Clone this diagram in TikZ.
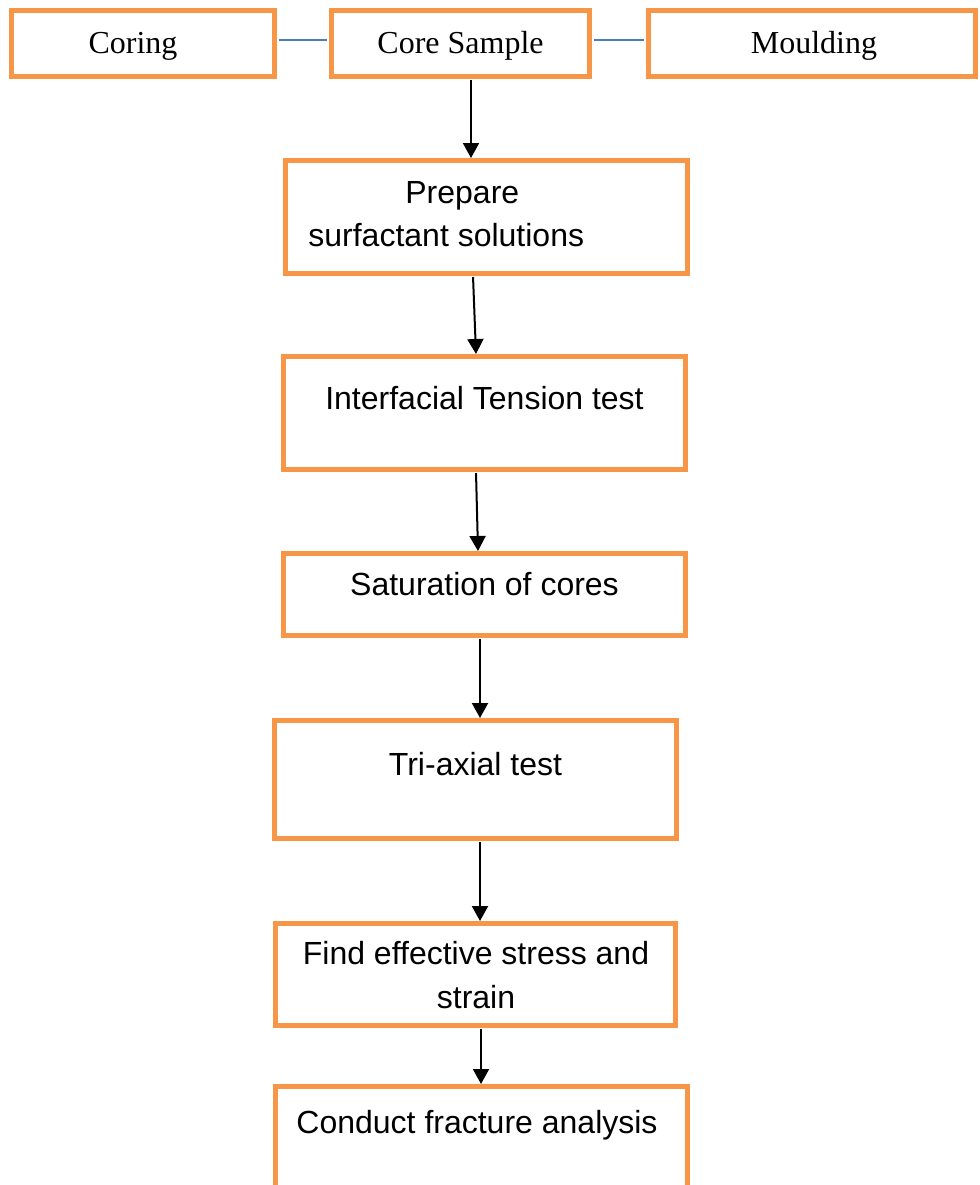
\documentclass[tikz,border=0pt]{standalone}
\usepackage{fontspec}
\setmainfont{Liberation Serif}
\newfontfamily\arialfont{Liberation Sans}
\usetikzlibrary{arrows.meta}
\definecolor{boxorange}{HTML}{F79646}
\definecolor{linkblue}{HTML}{4A7EBB}
\begin{document}
\begin{tikzpicture}[x=0.5pt,y=-0.5pt,
  stepbox/.style={draw=boxorange, line width=2.5pt, fill=white, inner sep=0pt},
  toptxt/.style={anchor=base, inner sep=0pt, font=\fontsize{16}{19}\selectfont},
  txt/.style={anchor=base, inner sep=0pt, font=\arialfont\fontsize{16}{19}\selectfont},
  flow/.style={-{Triangle[length=7.5pt,width=8pt]}, line width=1pt, shorten <=0.5pt},
  link/.style={draw=linkblue, line width=0.75pt, shorten >=1pt, shorten <=1pt}]
\useasboundingbox (0,0) rectangle (980,1185);
\clip (0,0) rectangle (980,1185);
\fill[white] (0,0) rectangle (980,1185);
\node[stepbox, minimum width=131.5pt, minimum height=33pt] (coring) at (142.5,43.5) {};
\node[stepbox, minimum width=129pt, minimum height=33pt] (sample) at (460.5,43.5) {};
\node[stepbox, minimum width=163.5pt, minimum height=33pt] (mould) at (812,43.5) {};
\node[stepbox, minimum width=201pt, minimum height=56.5pt] (prep) at (486.5,217) {};
\node[stepbox, minimum width=201pt, minimum height=56.5pt] (ift) at (484.5,413) {};
\node[stepbox, minimum width=201pt, minimum height=41pt] (sat) at (484.5,594.5) {};
\node[stepbox, minimum width=201pt, minimum height=59pt] (triax) at (475.5,779.5) {};
\node[stepbox, minimum width=200pt, minimum height=51pt] (eff) at (475.5,974.5) {};
\node[stepbox, minimum width=206pt, minimum height=82pt] (frac) at (481.5,1168.5) {};
\path
(133,53) node[toptxt]{Coring}
(460.5,53) node[toptxt]{Core Sample}
(814,53) node[toptxt]{Moulding};
\path
(405,203) node[txt, anchor=base west]{Prepare}
(308,246) node[txt, anchor=base west]{surfactant solutions}
(484.5,409) node[txt]{Interfacial Tension test}
(484.5,595) node[txt]{Saturation of cores}
(475.5,775) node[txt]{Tri-axial test}
(476,964) node[txt]{Find effective stress and}
(476,1008) node[txt]{strain}
(477,1133) node[txt]{Conduct fracture analysis};
\draw[link] ([yshift=1.75pt]coring.east) -- ([yshift=1.75pt]sample.west);
\draw[link] ([yshift=1.75pt]sample.east) -- ([yshift=1.75pt]mould.west);
\draw[flow] ([xshift=5.25pt]sample.south) -- ([xshift=-7.75pt]prep.north);
\draw[flow] ([xshift=-6.75pt]prep.south) -- ([xshift=-4.25pt]ift.north);
\draw[flow] ([xshift=-4.25pt]ift.south) -- ([xshift=-3.25pt]sat.north);
\draw[flow] ([xshift=-2.25pt]sat.south) -- ([xshift=2.25pt]triax.north);
\draw[flow] ([xshift=2.25pt]triax.south) -- ([xshift=2.25pt]eff.north);
\draw[flow] ([xshift=2.75pt]eff.south) -- ([xshift=-0.25pt]frac.north);
\end{tikzpicture}
\end{document}
